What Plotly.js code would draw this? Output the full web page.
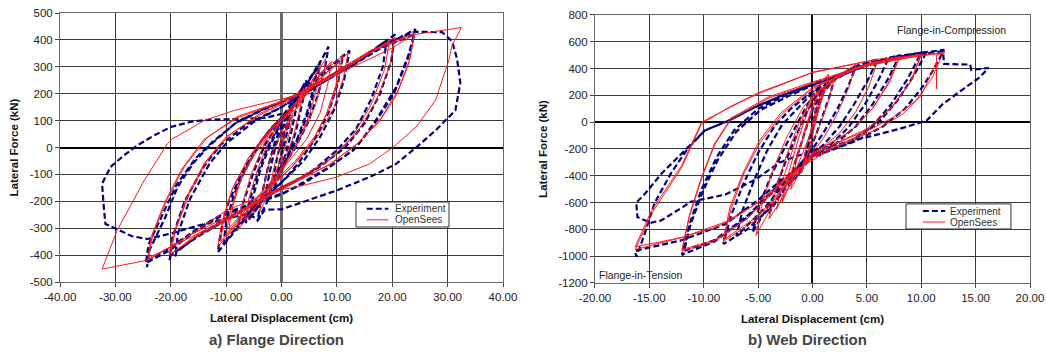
<!DOCTYPE html>
<html>
<head>
<meta charset="utf-8">
<script src="https://cdn.plot.ly/plotly-3.0.1.min.js"></script>
<style>
  html, body { margin: 0; padding: 0; background: #fff; }
  #chart { width: 1047px; height: 354px; }
</style>
</head>
<body>
<div id="chart"></div>
<script>
// Flange direction: lateral displacement (cm) vs lateral force (kN)
const flangeExperiment = [
  [0,0],[0.5,40],[1,80],[1.5,110],[1.2,70],[0.6,20],[0,-30],[-0.8,-90],[-1.5,-130],[-1.3,-90],[-0.7,-30],[0,30],
  [1,90],[2,150],[3,200],[2.6,140],[1.7,50],[0.8,-20],[0,-70],[-1.5,-140],[-3,-200],[-2.6,-140],[-1.8,-60],[-1,10],[0,60],
  [2,160],[4.5,250],[3.8,170],[2.6,60],[1.2,-30],[0,-90],[-2,-180],[-4.3,-270],[-3.6,-180],[-2.4,-70],[-1.2,20],[0,80],
  [3,190],[5,250],[6.5,300],[5.9,230],[4.6,130],[2.8,30],[0.5,-50],[-2.5,-150],[-5,-240],[-5.8,-270],[-5.2,-190],[-3.8,-80],[-2,10],[-0.5,70],[0,95],
  [3,190],[6,280],[8.5,375],[7.8,290],[6.5,190],[4.7,90],[2.5,0],[0,-80],[-3,-170],[-6,-250],[-8,-300],[-7,-210],[-5,-90],[-3,10],[-1,80],[0,110],
  [3,200],[5.5,270],[7,320],[6.3,240],[5,140],[3.2,40],[1,-40],[-2,-140],[-4.5,-230],[-6.5,-280],[-5.8,-200],[-4.2,-90],[-2.5,0],[-0.8,70],[0,100],
  [4,220],[8,290],[12.3,360],[11.3,250],[9.5,140],[7,40],[4,-50],[0,-130],[-4,-210],[-8,-300],[-11.5,-390],[-11,-320],[-9.5,-200],[-7,-90],[-4.5,0],[-2,70],[0,110],
  [4,210],[8,280],[11,330],[10.2,240],[8.5,130],[6,30],[3,-60],[0,-130],[-4,-200],[-7.5,-280],[-10.5,-360],[-10,-280],[-8.5,-170],[-6,-60],[-3.5,30],[-1,90],[0,110],
  [5,210],[10,280],[15,340],[20.5,420],[19.8,320],[17.8,200],[15,90],[11.5,0],[7,-70],[3,-120],[0,-150],[-5,-210],[-10,-270],[-15,-330],[-20,-400],[-20.2,-420],[-19.8,-340],[-17.5,-200],[-14,-70],[-11,10],[-6,90],[0,150],
  [5,210],[10,275],[15,335],[19,400],[18.3,300],[16.2,180],[13.5,70],[10,-10],[6,-80],[2,-130],[0,-150],[-5,-205],[-10,-265],[-15,-325],[-19,-390],[-19.2,-405],[-18.7,-320],[-16.5,-190],[-13,-60],[-10,15],[-5,95],[0,150],
  [5,220],[10,280],[17,360],[24.2,440],[23,348],[20.7,224],[17,100],[13.5,0],[8.7,-73],[3.9,-135],[0,-172],[-5,-205],[-10.9,-250],[-15.8,-310],[-20,-371],[-24,-420],[-24.3,-445],[-23.9,-384],[-21,-260],[-18.8,-148],[-16,-60],[-13.3,1],[-8.5,88],[-3.6,138],[0,169],
  [6,225],[12,295],[18,370],[24,420],[22.8,330],[20.3,200],[16.5,80],[13,-10],[8,-80],[3,-140],[0,-175],[-5,-210],[-10.9,-255],[-15.8,-315],[-20,-380],[-24.5,-430],[-24,-360],[-21.5,-250],[-19,-140],[-15.5,-40],[-12.5,20],[-8,95],[-3,145],[0,170],
  [6,230],[12,300],[18,380],[24,430],
  [27,430],[29,429],[30.8,395],[31.7,330],[32.3,240],[31.4,138],[27.8,63],[24.3,0],[20.7,-61],[15.9,-110],[9.9,-160],[3.9,-203],[0,-230],[-3,-231],[-4.3,-272],[-5.8,-245],[-10,-265],[-15,-290],[-20,-320],[-24.2,-340],[-27,-330],[-29.1,-309],[-31.8,-284],[-32.1,-220],[-32.4,-135],[-30.9,-73],[-28.5,-30],[-26.1,7],[-23,45],[-20,76],[-16.5,95],[-13.3,103],[-7.3,107],[-3,110],[0,125]
];

const flangeOpenSees = [
  [0,0],[1,70],[2,120],[1.5,60],[0,-40],[-1.5,-120],[-2,-140],[-1.2,-60],[0,30],
  [2,140],[4,220],[3.3,140],[2,30],[0,-70],[-2,-160],[-4,-240],[-3.3,-150],[-2,-40],[0,60],
  [4,190],[7,300],[6.4,220],[5,120],[3,20],[0,-90],[-3.5,-190],[-6.5,-270],[-5.9,-190],[-4.3,-80],[-2.2,30],[0,100],
  [3,150],[6,250],[9,320],[8.4,240],[7,130],[4.5,30],[1,-60],[-3,-150],[-7,-240],[-9.5,-300],[-8.8,-220],[-7.2,-110],[-4.5,0],[-1.5,80],[0,110],
  [4,200],[8,330],[7.5,260],[6,150],[3.5,40],[0,-80],[-4,-200],[-8,-310],[-7.2,-220],[-5.5,-100],[-3,20],[0,100],
  [5,220],[10.5,320],[9.8,230],[8,120],[5.5,20],[2,-70],[-4,-180],[-10,-330],[-9.4,-250],[-7.8,-140],[-5,-30],[-1.5,70],[0,110],
  [4,200],[7.5,280],[11,340],[10.3,250],[8.6,140],[6,40],[2.5,-50],[-2,-140],[-6,-220],[-11,-350],[-10.4,-260],[-8.8,-150],[-6,-40],[-2.5,60],[0,100],
  [6,240],[12,350],[11.2,260],[9.5,150],[6.5,40],[2,-70],[-4,-190],[-11.5,-370],[-10.8,-280],[-9,-160],[-6,-40],[-2,60],[0,100],[6,230],
  [12,300],[20.5,410],[19.5,300],[17,170],[13.5,50],[9,-40],[3,-120],[0,-150],[-8,-250],[-16,-340],[-20.3,-400],[-19.5,-320],[-17,-180],[-14,-60],[-10,40],[-4,120],[0,160],
  [8,250],[16,350],[19.5,395],[18.6,290],[16.2,160],[12.8,40],[8.5,-50],[3,-115],[0,-145],[-8,-245],[-16,-335],[-20,-395],[-19.2,-310],[-16.6,-170],[-13.5,-50],[-9.5,45],[-4,125],[0,165],
  [8,260],[16,360],[24,425],[23.2,330],[21,210],[18,110],[14,20],[9,-60],[3,-120],[0,-150],[-8,-240],[-16,-320],[-24.2,-419],[-23.5,-330],[-21,-200],[-18,-80],[-14,30],[-8,110],[0,170],
  [8,255],[16,355],[24,420],[23.1,320],[20.8,195],[17.6,95],[13.5,10],[8.5,-65],[3,-125],[0,-155],[-8,-245],[-16,-330],[-24,-410],[-23.2,-320],[-20.6,-190],[-17.5,-70],[-13.5,35],[-8,115],[0,172],[10,270],[20,370],[24,420],
  [32.5,446],[30.8,379],[30.2,323],[27.8,175],[24.3,76],[20.1,0],[15.9,-61],[9.9,-110],[3.9,-141],[-2,-165],[-10,-235],[-18,-345],[-24.2,-419],[-32.4,-452],[-29.7,-309],[-24.8,-123],[-20.6,14],[-19.7,32],[-13.9,101],[-8.5,138],[0,181],[5,205]
];

// Web direction: lateral displacement (cm) vs lateral force (kN)
const webExperiment = [
  [0,0],[0.5,150],[1,250],[0.7,150],[0.2,0],[-0.3,-150],[-0.8,-300],[-0.5,-180],[0,-20],
  [0.5,120],[1,220],[2,320],[1.6,200],[1,60],[0.3,-100],[-0.5,-250],[-1.2,-380],[-2,-450],[-1.6,-300],[-1,-150],[-0.4,0],[0.3,150],
  [1,250],[2.5,350],[4,420],[3.3,270],[2.3,100],[1,-80],[0,-200],[-1.5,-350],[-3,-550],[-4,-680],[-3.4,-500],[-2.5,-300],[-1.5,-100],[-0.5,80],[0.5,220],
  [2,330],[4,420],[6,470],[5,300],[3.8,130],[2.5,-30],[1,-170],[-1,-300],[-3,-480],[-5.5,-820],[-4.8,-600],[-3.8,-400],[-2.5,-180],[-1.2,20],[0,200],
  [2,330],[5,440],[8,500],[7,330],[5.5,130],[4,-30],[2,-170],[0,-250],[-2,-450],[-4,-650],[-6,-800],[-8.2,-910],[-7.5,-700],[-6.3,-450],[-5,-230],[-3.5,-30],[-2,100],[0,230],
  [3,370],[5,440],[7,480],[6.1,320],[4.8,130],[3.3,-40],[1.5,-180],[-0.5,-270],[-2.5,-450],[-4.5,-650],[-7,-850],[-6.4,-650],[-5.3,-420],[-4.1,-200],[-2.8,-20],[-1.3,110],[0,220],
  [3,360],[6,460],[10,520],[8.8,330],[7.2,130],[5.5,-30],[3,-170],[0,-260],[-3,-470],[-6,-710],[-9,-890],[-12,-990],[-11.3,-760],[-10.2,-500],[-8.8,-260],[-7.2,-60],[-5,100],[-2.5,200],[0,280],
  [3,360],[6,455],[10.5,525],[9.4,360],[7.8,160],[6,-10],[3.5,-150],[0,-255],[-3,-460],[-6,-700],[-9,-880],[-11.8,-960],[-11.2,-760],[-10.1,-520],[-8.7,-280],[-7,-70],[-4.8,90],[-2.2,195],[0,275],
  [4,400],[8,497],[12.1,540],[11.2,400],[10,250],[8.5,100],[6.5,-30],[4,-140],[0,-260],[-3,-440],[-5,-580],[-8,-760],[-12,-880],[-16.3,-960],[-16.2,-1005],[-15.5,-850],[-14.5,-600],[-13,-380],[-11.5,-200],[-9.9,-62],[-7.7,12],[-5.3,112],[-2.8,199],[0,286],[4,400],[8,490],[12,530],
  [12.1,435],[14.5,430],[14.6,390],[16.2,405],[15.3,330],[14.1,261],[12,137],[10.5,12],[8,-50],[5,-112],[2,-174],[0,-211],[-3,-300],[-5.3,-430],[-8,-540],[-11.2,-594],[-11.9,-632],[-13.9,-733],[-14.9,-751],[-16.1,-707],[-16.2,-600],[-15.4,-534],[-13.9,-385],[-11.7,-211],[-9.9,-62],[-7.7,12],[-5.3,112],[-2.8,199],[0,286]
];

const webOpenSees = [
  [0,0],[0.5,150],[1,250],[0.6,100],[0,-100],[-0.5,-250],[-1,-380],[-0.6,-200],[0,-20],
  [1,220],[2,320],[1.5,170],[0.8,0],[0,-150],[-1,-350],[-2,-500],[-1.5,-300],[-0.8,-80],[0,120],
  [0.8,260],[-0.2,50],[-1.2,-200],[-2.5,-500],[-3.3,-650],[-2.8,-450],[-1.8,-200],[-0.8,50],[0.3,250],[1.5,360],[1,200],[0,-50],[-1.5,-350],[-2.8,-600],[-2.2,-380],[-1.2,-100],[0,180],
  [2,330],[4,430],[3.3,250],[2.2,50],[1,-120],[-1,-330],[-3,-600],[-4,-720],[-3.3,-480],[-2.4,-250],[-1.2,0],[0,200],
  [3,380],[6,460],[5.2,270],[4,80],[2.5,-80],[0,-250],[-2.5,-450],[-5.2,-845],[-4.6,-600],[-3.6,-350],[-2.3,-100],[-0.8,120],[1,260],
  [4,410],[8,490],[7,300],[5.5,100],[3.5,-70],[0,-230],[-2.5,-480],[-5,-720],[-8.2,-890],[-7.5,-650],[-6.3,-380],[-4.8,-150],[-2.8,60],[0,250],
  [4,400],[8,480],[7.1,300],[5.6,110],[3.6,-60],[0,-240],[-2.5,-470],[-5,-700],[-8.2,-880],[-7.6,-640],[-6.4,-380],[-4.9,-140],[-2.9,70],[0,260],
  [5,430],[10,510],[9,300],[7.2,100],[5,-60],[1,-200],[-3,-460],[-6,-720],[-9,-890],[-12,-960],[-11.3,-700],[-10.2,-420],[-9,-170],[-7.5,20],[-4,180],[0,290],
  [5,420],[10,500],[9.1,310],[7.3,110],[5,-50],[1,-200],[-3,-470],[-6,-720],[-9,-880],[-12,-950],[-11.3,-690],[-10.2,-410],[-9,-160],[-7.5,30],[-4,190],[0,300],
  [6,450],[12.2,520],[11.4,500],[11.4,250],[11.4,450],[10,200],[8.3,60],[6,-50],[2,-190],[-2,-380],[-5,-600],[-8.7,-780],[-12,-860],[-16.3,-950],[-14.8,-683],[-12,-335],[-10.2,-12],[-7.5,120],[-5,211],[0,373],[6,470],[12,515],
  [11,330],[9.5,160],[7.5,40],[4,-110],[0,-260],[-3,-470],[-5,-600],[-7.5,-730],[-12,-860],[-16.3,-930],[-14.8,-660],[-12,-320],[-10.2,0],[-5,220],[0,370],[6,470]
];

// Axis tick labels
const flangeXTicks = [-40, -30, -20, -10, 0, 10, 20, 30, 40];
const flangeXLabels = ['-40.00', '-30.00', '-20.00', '-10.00', '0.00', '10.00', '20.00', '30.00', '40.00'];
const flangeYTicks = [-500, -400, -300, -200, -100, 0, 100, 200, 300, 400, 500];
const flangeYLabels = ['-500', '-400', '-300', '-200', '-100', '0', '100', '200', '300', '400', '500'];
const webXTicks = [-20, -15, -10, -5, 0, 5, 10, 15, 20];
const webXLabels = ['-20.00', '-15.00', '-10.00', '-5.00', '0.00', '5.00', '10.00', '15.00', '20.00'];
const webYTicks = [-1200, -1000, -800, -600, -400, -200, 0, 200, 400, 600, 800];
const webYLabels = ['-1200', '-1000', '-800', '-600', '-400', '-200', '0', '200', '400', '600', '800'];

const seriesNames = ['Experiment', 'OpenSees'];

const col = (pts, i) => pts.map(p => p[i]);

const EXP_COLOR = '#000080';
const SIM_COLOR = '#ff1a1a';
const expLine = { color: EXP_COLOR, width: 2.2, dash: '6px,3px' };
const simLine = { color: SIM_COLOR, width: 1 };

const traces = [
  { x: col(flangeExperiment, 0), y: col(flangeExperiment, 1), xaxis: 'x', yaxis: 'y',
    mode: 'lines', name: seriesNames[0], line: expLine },
  { x: col(flangeOpenSees, 0), y: col(flangeOpenSees, 1), xaxis: 'x', yaxis: 'y',
    mode: 'lines', name: seriesNames[1], line: simLine },
  { x: col(webExperiment, 0), y: col(webExperiment, 1), xaxis: 'x2', yaxis: 'y2',
    mode: 'lines', name: seriesNames[0], line: expLine },
  { x: col(webOpenSees, 0), y: col(webOpenSees, 1), xaxis: 'x2', yaxis: 'y2',
    mode: 'lines', name: seriesNames[1], line: simLine }
];

const FONT = 'Liberation Sans, Arial, sans-serif';
const tickFont = { family: FONT, size: 11.5, color: '#222' };
const titleFont = { family: FONT, size: 11.5, color: '#111', weight: 'bold' };

const axisBase = {
  showgrid: true, gridcolor: '#3a3a3a', gridwidth: 1,
  showline: true, mirror: true, linecolor: '#666', linewidth: 1,
  ticks: 'outside', ticklen: 4, tickcolor: '#444',
  tickfont: tickFont, fixedrange: true
};

// Boxed legend inside each panel, placed in the panel's own data units
function legendBox(xref, yref, box, sample, rows, textX) {
  const shapes = [
    { type: 'rect', xref, yref, x0: box[0], x1: box[1], y0: box[2], y1: box[3],
      fillcolor: '#fff', line: { color: '#333', width: 1 }, layer: 'above' },
    { type: 'line', xref, yref, x0: sample[0], x1: sample[1], y0: rows[0], y1: rows[0],
      line: { color: EXP_COLOR, width: 2, dash: '6px,3px' }, layer: 'above' },
    { type: 'line', xref, yref, x0: sample[0], x1: sample[1], y0: rows[1], y1: rows[1],
      line: { color: SIM_COLOR, width: 1 }, layer: 'above' }
  ];
  const notes = seriesNames.map((name, i) => ({
    text: name, xref, yref, x: textX, y: rows[i], xanchor: 'left', yanchor: 'middle',
    showarrow: false, font: { family: FONT, size: 10, color: '#333' }
  }));
  return { shapes, notes };
}

const legA = legendBox('x', 'y', [13.45, 30.25, -202.6, -295.5], [15.4, 19.3], [-228, -269], 20.1);
const legB = legendBox('x2', 'y2', [8.6, 18.25, -610, -797], [10.15, 12.2], [-663, -745], 12.45);

const layout = {
  width: 1047, height: 354,
  margin: { l: 60, r: 17, t: 13, b: 71 },
  paper_bgcolor: '#fff', plot_bgcolor: '#fff',
  showlegend: false,
  xaxis: Object.assign({}, axisBase, {
    domain: [0, 0.4567], range: [-40, 40], anchor: 'y',
    tickmode: 'array', tickvals: flangeXTicks, ticktext: flangeXLabels,
    zeroline: true, zerolinecolor: '#6a6a6a', zerolinewidth: 3,
    title: { text: 'Lateral Displacement (cm)', font: titleFont, standoff: 12 }
  }),
  yaxis: Object.assign({}, axisBase, {
    domain: [0.0037, 1], range: [-500, 500], anchor: 'x',
    tickmode: 'array', tickvals: flangeYTicks, ticktext: flangeYLabels,
    zeroline: true, zerolinecolor: '#000', zerolinewidth: 2,
    title: { text: 'Lateral Force (kN)', font: titleFont, standoff: 8 }
  }),
  xaxis2: Object.assign({}, axisBase, {
    domain: [0.5515, 1], range: [-20, 20], anchor: 'y2',
    tickmode: 'array', tickvals: webXTicks, ticktext: webXLabels,
    zeroline: true, zerolinecolor: '#111', zerolinewidth: 2,
    title: { text: 'Lateral Displacement (cm)', font: titleFont, standoff: 12 }
  }),
  yaxis2: Object.assign({}, axisBase, {
    domain: [0, 0.9926], range: [-1200, 800], anchor: 'x2',
    tickmode: 'array', tickvals: webYTicks, ticktext: webYLabels,
    zeroline: true, zerolinecolor: '#000', zerolinewidth: 2,
    title: { text: 'Lateral Force (kN)', font: titleFont, standoff: 8 }
  }),
  shapes: legA.shapes.concat(legB.shapes),
  annotations: legA.notes.concat(legB.notes, [
    { text: 'Flange-in-Compression', xref: 'x2', yref: 'y2', x: 7.6, y: 690,
      xanchor: 'left', yanchor: 'middle', showarrow: false,
      font: { family: FONT, size: 10.5, color: '#222' } },
    { text: 'Flange-in-Tension', xref: 'x2', yref: 'y2', x: -19.8, y: -1140,
      xanchor: 'left', yanchor: 'middle', showarrow: false,
      font: { family: FONT, size: 10.5, color: '#222' } },
    { text: 'a) Flange Direction', xref: 'paper', yref: 'paper', x: 0.2237, y: -0.211,
      xanchor: 'center', yanchor: 'middle', showarrow: false,
      font: { family: FONT, size: 15, color: '#444', weight: 'bold' } },
    { text: 'b) Web Direction', xref: 'paper', yref: 'paper', x: 0.771, y: -0.211,
      xanchor: 'center', yanchor: 'middle', showarrow: false,
      font: { family: FONT, size: 15, color: '#444', weight: 'bold' } }
  ])
};

Plotly.newPlot('chart', traces, layout, { displayModeBar: false, staticPlot: true });
</script>
</body>
</html>
